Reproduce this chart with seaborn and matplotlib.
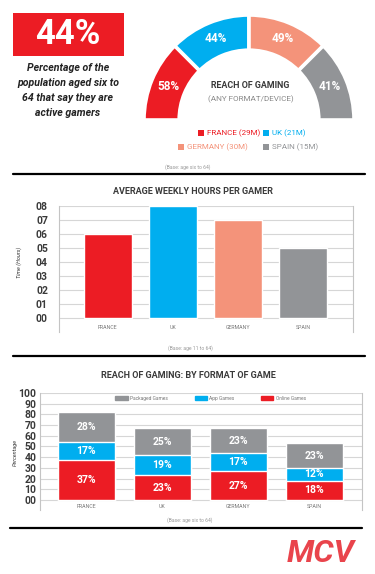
import matplotlib
matplotlib.use("Agg")
import numpy as np
import pandas as pd
import matplotlib.pyplot as plt
from matplotlib.patches import Rectangle, Patch
import seaborn as sns

# ---- data ----
countries = ["FRANCE", "UK", "GERMANY", "SPAIN"]
country_colors = ["#ec1c24", "#00aeef", "#f4937a", "#929497"]
reach_pct = [58, 44, 49, 41]
gamers_m = [29, 21, 30, 15]
weekly_hours = [6, 8, 7, 5]
hour_ticks = ["00", "01", "02", "03", "04", "05", "06", "07", "08"]
online_games = [37, 23, 27, 18]
app_games = [17, 19, 17, 12]
packaged_games = [28, 25, 23, 23]
pct_ticks = ["00", "10", "20", "30", "40", "50", "60", "70", "80", "90", "100"]
format_labels = ["Packaged Games", "App Games", "Online Games"]
headline = "44%"
headline_lines = ["Percentage of the", "population aged six to",
                  "64 that say they are", "active gamers"]

W, H = 375, 574
sns.set_theme(style="white")
plt.rcParams["font.family"] = ["Roboto", "DejaVu Sans"]

RED, BLUE, SALMON, GREY = country_colors
DARK = "#3a3a3a"
GRID = "#d6d6d6"

fig = plt.figure(figsize=(3.75, 5.74), dpi=100)
fig.patch.set_facecolor("white")


def box(l, t, r, b):
    # pixel box -> figure fraction
    return [l / W, 1 - b / H, (r - l) / W, (b - t) / H]


bg = fig.add_axes([0, 0, 1, 1], zorder=0)
bg.set_xlim(0, W)
bg.set_ylim(H, 0)
bg.axis("off")

# headline block
bg.add_patch(Rectangle((13, 13), 111, 43, color=RED, lw=0))
bg.text(68, 35, headline, color="white", fontsize=25, fontweight="bold",
        ha="center", va="center")
for i, line in enumerate(headline_lines):
    bg.text(68, 68 + i * 15, line, color="#222222", fontsize=7.6,
            fontweight="bold", style="italic", ha="center", va="center")

# half donut
ax_d = fig.add_axes(box(144, 15, 354, 225), zorder=1)
wedges, _ = ax_d.pie([1, 1, 1, 1, 4], colors=country_colors + ["white"],
                     startangle=180, counterclock=False,
                     wedgeprops=dict(width=0.335, edgecolor="white", linewidth=2.6))
wedges[-1].set_visible(False)
ax_d.set_xlim(-1, 1)
ax_d.set_ylim(-1, 1)
for w, v in zip(wedges[:4], reach_pct):
    ang = np.deg2rad((w.theta1 + w.theta2) / 2)
    ax_d.text(0.835 * np.cos(ang), 0.835 * np.sin(ang), f"{v}%", color="white",
              fontsize=8.5, fontweight="bold", ha="center", va="center")

bg.text(250, 85, "REACH OF GAMING", color=DARK, fontsize=6.4, fontweight="bold",
        ha="center", va="center")
bg.text(251, 99, "(ANY FORMAT/DEVICE)", color="#8a8a8a", fontsize=5.9,
        ha="center", va="center")

# donut legend
legend_pos = [(198, 133), (263, 133), (178, 147), (263, 147)]
for (x, y), name, n, c in zip(legend_pos, countries, gamers_m, country_colors):
    bg.add_patch(Rectangle((x, y - 3), 6, 6, color=c, lw=0))
    bg.text(x + 9, y, f"{name} ({n}M)", color=c, fontsize=5.8,
            ha="left", va="center")

bg.text(188, 167, "(Base: age six to 64)", color="#999999", fontsize=3.6,
        ha="center", va="center")
bg.plot([13, 365], [174, 174], color="black", lw=1.6)

# ---- average weekly hours ----
bg.text(193, 192, "AVERAGE WEEKLY HOURS PER GAMER", color=DARK, fontsize=6.5,
        fontweight="bold", ha="center", va="center")
ax1 = fig.add_axes(box(59, 206, 353, 332), zorder=1)
df1 = pd.DataFrame({"country": countries, "hours": weekly_hours})
sns.barplot(data=df1, x="country", y="hours", hue="country",
            palette=country_colors, legend=False, width=0.74, saturation=1,
            ax=ax1)
ax1.set_xlim(-0.75, 3.77)
ax1.set_ylim(-1, 8)
ax1.set_yticks(range(9))
ax1.set_yticklabels(hour_ticks)
ax1.yaxis.grid(True, color=GRID, lw=0.8)
ax1.set_axisbelow(True)
ax1.set_xlabel("")
ax1.set_ylabel("Time (Hours)", fontsize=4, style="italic", color=DARK)
ax1.yaxis.set_label_coords(-0.126, 0.556)
ax1.tick_params(axis="y", length=0, pad=8, labelsize=7.5, labelcolor=DARK)
ax1.tick_params(axis="x", length=0, pad=-5, labelsize=3.8, labelcolor="#777777")
for lbl in ax1.get_yticklabels():
    lbl.set_fontweight("bold")
for s in ["top", "bottom"]:
    ax1.spines[s].set_visible(False)
for s in ["left", "right"]:
    ax1.spines[s].set_color("#c4c4c4")
    ax1.spines[s].set_linewidth(0.8)

bg.text(190, 348, "(Base: age 11 to 64)", color="#999999", fontsize=3.6,
        ha="center", va="center")
bg.plot([13, 365], [356, 356], color="black", lw=1.6)

# ---- reach by format ----
bg.text(188, 375, "REACH OF GAMING: BY FORMAT OF GAME", color=DARK, fontsize=6.5,
        fontweight="bold", ha="center", va="center")
ax3 = fig.add_axes(box(40, 393, 362, 510), zorder=1)
online = np.array(online_games)
mid = online + np.array(app_games)
total = mid + np.array(packaged_games)
layers = [(total, GREY), (mid, BLUE), (online, RED)]
for vals, c in layers:
    sns.barplot(x=countries, y=vals, color=c, width=0.75, saturation=1, ax=ax3)
bottoms = [np.zeros(4), online, mid]
tops = [online, mid, total]
values = [online_games, app_games, packaged_games]
for b, t, v in zip(bottoms, tops, values):
    for i in range(4):
        ax3.text(i, (b[i] + t[i]) / 2, f"{v[i]}%", color="white", fontsize=7.5,
                 fontweight="bold", ha="center", va="center")
ax3.set_xlim(-0.61, 3.63)
ax3.set_ylim(-9.35, 100)
ax3.set_yticks(range(0, 101, 10))
ax3.set_yticklabels(pct_ticks)
ax3.yaxis.grid(True, color=GRID, lw=0.8)
ax3.set_axisbelow(True)
ax3.set_ylabel("Percentage", fontsize=4, style="italic", color=DARK)
ax3.yaxis.set_label_coords(-0.068, 0.496)
ax3.tick_params(axis="y", length=0, pad=2.5, labelsize=7.5, labelcolor=DARK)
ax3.tick_params(axis="x", length=0, pad=-4.5, labelsize=3.8, labelcolor="#777777")
for lbl in ax3.get_yticklabels():
    lbl.set_fontweight("bold")
for s in ["top", "bottom"]:
    ax3.spines[s].set_visible(False)
for s in ["left", "right"]:
    ax3.spines[s].set_color("#c4c4c4")
    ax3.spines[s].set_linewidth(0.8)
handles = [Patch(color=c) for c in [GREY, BLUE, RED]]
ax3.legend(handles, format_labels, ncol=3, loc="center",
           bbox_to_anchor=(0.53, 0.957), frameon=False, fontsize=3.5,
           handlelength=2.5, handleheight=0.9, columnspacing=5.5,
           handletextpad=0.5, labelcolor="#777777")

bg.text(190, 520, "(Base: age six to 64)", color="#999999", fontsize=3.6,
        ha="center", va="center")
bg.plot([10, 362], [528, 528], color="black", lw=1.6)

bg.text(321, 554, "MCV", color="#e9444c", fontsize=23, fontweight="bold",
        style="italic", ha="center", va="center")

fig.savefig("out.png", dpi=100)
